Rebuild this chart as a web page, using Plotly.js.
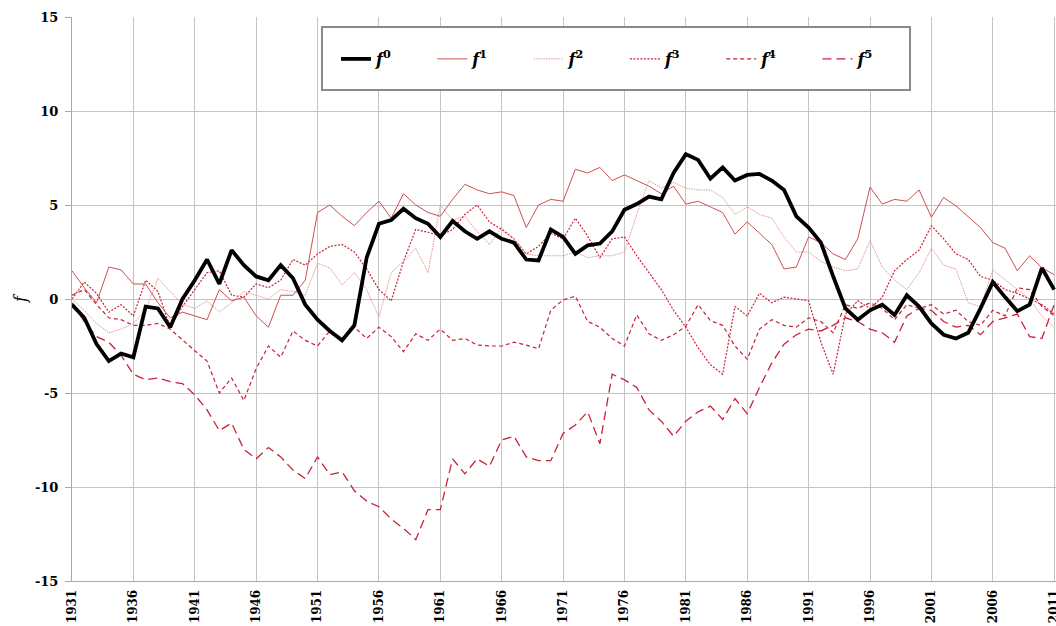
<!DOCTYPE html>
<html>
<head>
<meta charset="utf-8">
<script src="https://cdn.plot.ly/plotly-3.0.1.min.js"></script>
<style>html,body{margin:0;padding:0;background:#fff;}#chart{width:1056px;height:626px;}</style>
</head>
<body>
<div id="chart"></div>
<script>
const years = [1931,1932,1933,1934,1935,1936,1937,1938,1939,1940,
1941,1942,1943,1944,1945,1946,1947,1948,1949,1950,
1951,1952,1953,1954,1955,1956,1957,1958,1959,1960,
1961,1962,1963,1964,1965,1966,1967,1968,1969,1970,
1971,1972,1973,1974,1975,1976,1977,1978,1979,1980,
1981,1982,1983,1984,1985,1986,1987,1988,1989,1990,
1991,1992,1993,1994,1995,1996,1997,1998,1999,2000,
2001,2002,2003,2004,2005,2006,2007,2008,2009,2010,2011];

const tickYears = [1931,1936,1941,1946,1951,1956,1961,1966,1971,1976,1981,1986,1991,1996,2001,2006,2011];
const yTicks = [-15,-10,-5,0,5,10,15];
const yTickText = ['-15','-10','-5','0','5','10','15'];

const f0 = [-0.3,-1.0,-2.4,-3.3,-2.9,-3.1,-0.4,-0.5,-1.5,0.0,
1.0,2.1,0.8,2.6,1.8,1.2,1.0,1.8,1.1,-0.3,
-1.1,-1.7,-2.2,-1.4,2.2,4.0,4.2,4.8,4.3,4.0,
3.3,4.15,3.6,3.2,3.6,3.2,3.0,2.1,2.05,3.7,
3.3,2.4,2.85,2.95,3.6,4.75,5.05,5.45,5.3,6.7,
7.7,7.4,6.4,7.0,6.3,6.6,6.65,6.3,5.8,4.4,
3.8,3.0,1.2,-0.5,-1.1,-0.6,-0.3,-0.85,0.2,-0.4,
-1.3,-1.9,-2.1,-1.8,-0.5,0.9,0.1,-0.65,-0.3,1.65,0.5];

const f1 = [1.5,0.6,-0.2,1.7,1.55,0.8,0.8,-0.2,-1.0,-0.7,
-0.9,-1.1,0.5,-0.1,0.1,-0.9,-1.5,0.2,0.2,1.0,
4.6,5.0,4.4,3.9,4.6,5.2,4.3,5.6,5.0,4.6,
4.4,5.3,6.1,5.8,5.6,5.7,5.5,3.8,5.0,5.3,
5.2,6.9,6.7,7.0,6.3,6.6,6.3,6.0,5.6,6.0,
5.05,5.2,4.9,4.6,3.45,4.1,3.5,2.9,1.6,1.7,
3.3,3.0,2.4,2.1,3.2,5.95,5.05,5.3,5.2,5.8,
4.35,5.4,4.95,4.4,3.8,3.0,2.7,1.5,2.3,1.65,1.3];

const f2 = [0.0,-0.6,-1.3,-1.8,-1.6,-1.3,-0.6,1.1,0.4,-0.3,
-0.5,-0.1,-0.7,-0.2,0.4,0.2,0.0,0.5,0.4,0.2,
1.9,1.65,0.75,1.4,0.5,-0.95,1.4,2.0,2.7,1.4,
5.0,4.2,4.4,3.6,2.9,3.8,3.2,2.4,2.3,2.3,
2.3,2.5,2.2,2.3,2.3,2.5,4.5,6.3,5.9,6.2,
5.9,5.8,5.8,5.4,4.5,4.9,4.5,4.3,3.3,2.5,
2.5,2.0,1.7,1.5,1.6,3.1,1.7,1.0,0.5,1.4,
2.7,1.8,1.6,-0.2,-0.4,1.55,1.0,0.5,0.0,-0.9,-1.5];

const f3 = [0.0,0.9,0.3,-0.7,-0.3,-0.9,1.0,0.4,-1.5,-0.4,
0.5,1.4,1.5,0.2,0.1,0.8,0.6,1.0,2.1,1.8,
2.4,2.8,2.9,2.5,1.6,0.5,-0.1,2.0,3.7,3.55,
3.35,3.7,4.5,5.0,4.1,3.7,3.2,2.4,2.8,3.5,
3.2,4.3,3.35,2.2,3.2,3.3,2.3,1.4,0.5,-0.6,
-1.5,-2.6,-3.5,-4.0,-0.4,-0.9,0.3,-0.2,0.1,0.0,
-0.1,-2.3,-4.0,-0.8,-0.1,-0.5,0.1,1.5,2.1,2.6,
3.9,3.2,2.4,2.1,1.2,1.0,0.5,0.3,0.0,-0.3,-0.8];

const f4 = [0.2,0.5,-0.3,-1.0,-1.1,-1.4,-1.4,-1.3,-1.6,-2.2,
-2.75,-3.3,-5.0,-4.2,-5.4,-3.7,-2.5,-3.1,-1.7,-2.2,
-2.5,-1.7,-2.2,-1.5,-2.1,-1.5,-2.0,-2.8,-1.85,-2.2,
-1.6,-2.2,-2.1,-2.45,-2.5,-2.5,-2.3,-2.45,-2.65,-0.6,
-0.05,0.15,-1.2,-1.5,-2.1,-2.5,-0.85,-1.85,-2.2,-1.9,
-1.45,-0.3,-1.15,-1.4,-2.5,-3.2,-1.6,-1.1,-1.4,-1.5,
-1.0,-1.2,-1.8,-0.3,-0.5,-0.2,-0.5,-1.1,-0.3,-0.5,
-0.3,-0.8,-0.6,-1.2,-1.4,-0.6,-0.9,0.6,0.5,-0.4,-0.9];

const f5 = [-0.2,-1.2,-2.0,-2.3,-3.0,-4.0,-4.3,-4.2,-4.4,-4.5,
-5.1,-5.9,-7.0,-6.6,-8.0,-8.5,-7.9,-8.4,-9.1,-9.55,
-8.4,-9.35,-9.2,-10.2,-10.75,-11.05,-11.7,-12.2,-12.8,-11.2,
-11.2,-8.5,-9.3,-8.5,-8.9,-7.5,-7.3,-8.4,-8.6,-8.6,
-7.15,-6.7,-6.0,-7.7,-4.0,-4.3,-4.7,-5.9,-6.5,-7.3,
-6.5,-6.0,-5.7,-6.4,-5.3,-6.1,-4.7,-3.4,-2.4,-1.9,
-1.6,-1.7,-1.4,-1.0,-1.2,-1.6,-1.8,-2.3,-0.9,-0.5,
-0.6,-1.2,-1.5,-1.4,-1.9,-1.2,-1.0,-0.8,-2.0,-2.1,-0.3];

const pad = '&nbsp;&nbsp;&nbsp;&nbsp;&nbsp;&nbsp;&nbsp;';
const label = i => '<b><i>f</i></b><sup><b>' + i + '</b></sup>' + pad;

const red = 'rgb(200,35,55)';
const styles = [
  {color: 'black', width: 3.8},
  {color: 'rgb(205,80,80)', width: 1},
  {color: 'rgb(228,150,150)', width: 1, dash: '1.5px,1px'},
  {color: red, width: 1.2, dash: '2px,1.5px'},
  {color: red, width: 1.2, dash: '4px,3px'},
  {color: red, width: 1.3, dash: '9px,5px'}
];
const data = [f0, f1, f2, f3, f4, f5];
const traces = data.map((vals, i) => ({
  type: 'scatter', mode: 'lines', x: years, y: vals,
  name: label(i), legendrank: i + 1, line: styles[i]
})).reverse();

const serif = 'DejaVu Serif';
const L = 72, R = 0, T = 17, B = 45, W = 1056, H = 626;
const pw = W - L - R, ph = H - T - B;
const px = v => (v - L) / pw;
const py = v => (H - B - v) / ph;

const layout = {
  width: W, height: H,
  margin: {l: L, r: R, t: T, b: B, pad: 0},
  paper_bgcolor: 'white', plot_bgcolor: 'white',
  showlegend: true,
  font: {family: serif},
  xaxis: {
    range: [1931, 2011.15], tickvals: tickYears, ticktext: tickYears.map(String),
    tickangle: -90, showgrid: true, gridcolor: '#c4c4c4', gridwidth: 1,
    showline: true, linecolor: '#a8a8a8', linewidth: 1, zeroline: false, ticks: '',
    ticklabeloverflow: 'allow', ticklabelstandoff: 3,
    tickfont: {family: serif, size: 12, color: 'black', weight: 'bold'}
  },
  yaxis: {
    range: [-15, 15], tickvals: yTicks, ticktext: yTickText, showgrid: true, gridcolor: '#c4c4c4', gridwidth: 1,
    showline: true, linecolor: '#a8a8a8', linewidth: 1, zeroline: false,
    ticks: 'outside', ticklen: 6, tickcolor: '#a8a8a8', ticklabelstandoff: 4,
    tickfont: {family: serif, size: 13, color: 'black', weight: 'bold'},
    title: {text: '<i>f</i>', font: {family: serif, size: 16, color: 'black'}, standoff: 4}
  },
  shapes: [{
    type: 'rect', xref: 'paper', yref: 'paper', layer: 'above',
    x0: px(322), x1: px(910), y0: py(90), y1: py(27),
    line: {color: '#8a8a8a', width: 2}, fillcolor: 'white'
  }],
  legend: {
    orientation: 'h',
    x: px(336), xanchor: 'left', y: py(42), yanchor: 'top',
    bgcolor: 'rgba(0,0,0,0)', borderwidth: 0,
    font: {family: serif, size: 16, color: 'black'}
  }
};

Plotly.newPlot('chart', traces, layout, {displayModeBar: false, staticPlot: true});
</script>
</body>
</html>
